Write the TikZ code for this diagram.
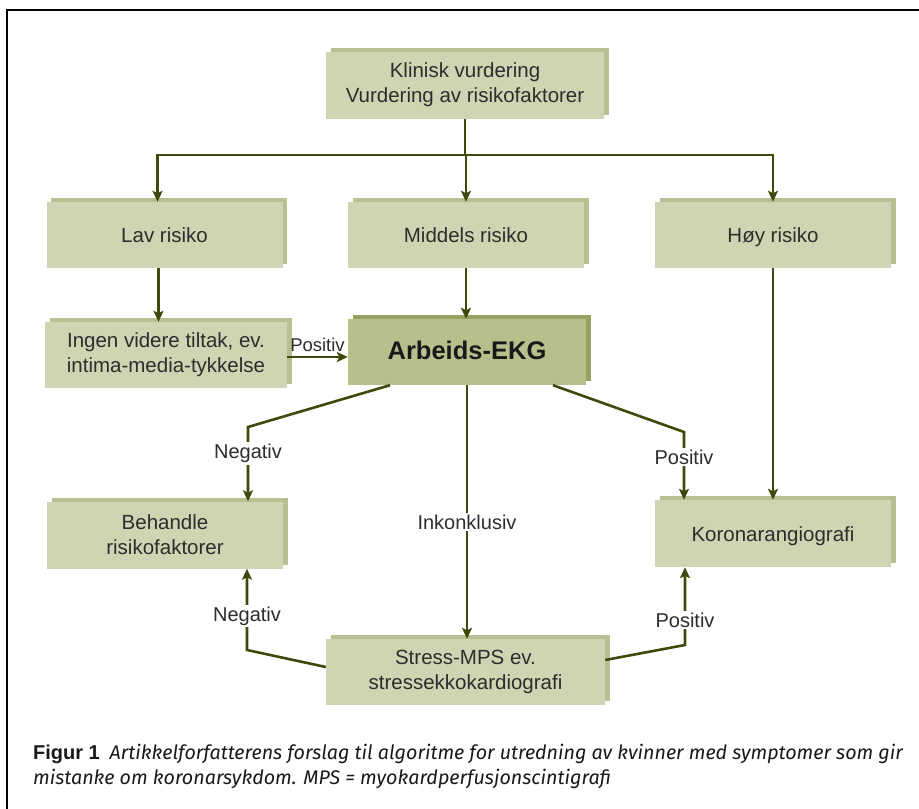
\documentclass[tikz,border=0pt]{standalone}
\usepackage{fontspec}
\setmainfont{Liberation Sans}
\newfontfamily\capfont{Fira Sans}
\usepackage{tikz}
\usetikzlibrary{positioning}
\usetikzlibrary{arrows.meta}
\usetikzlibrary{shadows}

\definecolor{boxfill}{RGB}{207,212,178}
\definecolor{boxshade}{RGB}{184,192,147}
\definecolor{keyfill}{RGB}{184,191,141}
\definecolor{keyshade}{RGB}{152,161,98}
\definecolor{flowline}{RGB}{61,74,12}
\definecolor{boxtext}{RGB}{45,45,45}

\begin{document}
\begin{tikzpicture}[x=1pt,y=-1pt,
  boxbase/.style={inner sep=0pt, align=center, text=boxtext,
    minimum width=236pt, minimum height=66pt},
  box/.style={boxbase, fill=boxfill, font=\fontsize{20.5}{25}\selectfont,
    general shadow={fill=boxshade, shadow xshift=4.5pt, shadow yshift=4pt}},
  keybox/.style={boxbase, fill=keyfill, text=black!90,
    font=\bfseries\fontsize{25.5}{28}\selectfont,
    general shadow={fill=keyshade, shadow xshift=4.5pt, shadow yshift=4pt}},
  oneline/.style={text height=19pt, text depth=4pt},
  flow/.style={draw=flowline, line width=2.6pt},
  arr/.style={flow, -{Stealth[length=11pt,width=10pt,inset=2.5pt]}},
  lbl/.style={fill=white, text=boxtext, inner sep=2pt, font=\fontsize{20}{22}\selectfont}]
  \useasboundingbox (0,0) rectangle (919,809);

  % Frame
  \draw[line width=2.6pt] (7,809) -- (7,10) -- (919,10);

  % Clinical assessment
  \node[box, minimum width=278pt, minimum height=67pt] (klinisk) at (465,85)
    {Klinisk vurdering\\Vurdering av risikofaktorer};

  % Risk groups
  \node[box, oneline] (lav) at (164.5,235) {Lav risiko};
  \node[box, oneline] (middels) at (466,235) {Middels risiko};
  \node[box, oneline] (hoy) at (773,235) {Høy risiko};

  % Second row
  \node[box, minimum width=242pt] (ingen) at (166,355) {Ingen videre tiltak, ev.\\intima-media-tykkelse};
  \node[keybox, oneline, minimum width=238pt] (ekg) at (467,352) {Arbeids-EKG};

  % Third row
  \node[box, minimum height=67pt] (behandle) at (165,535) {Behandle\\risikofaktorer};
  \node[box, oneline, minimum height=67pt] (koronar) at (773,533.5) {Koronarangiografi};

  % Bottom
  \node[box, minimum width=279pt] (stress) at (465.5,672) {Stress-MPS ev.\\stressekkokardiografi};

  % Split to risk groups
  \coordinate (split) at (465,155);
  \draw[flow] (klinisk.south) -- (split);
  \draw[arr] (split) -| ([xshift=-7pt]lav.north);
  \draw[arr] (split) -| (hoy.north);
  \draw[arr] (split) -- (middels.north |- split) -- (middels.north);

  % Down to second row
  \draw[arr] ([xshift=-6pt]lav.south) -- ([xshift=-6pt]lav.south |- ingen.north);
  \draw[arr] (middels.south) -- (middels.south |- ekg.north);
  \draw[arr] ([yshift=-2pt]ingen.east) -- ([yshift=-2pt]ingen.east -| ekg.west)
    node[midway, above=4pt, inner sep=0pt, text=boxtext, font=\fontsize{18.5}{20}\selectfont] {Positiv};
  \draw[arr] (hoy.south) -- (hoy.south |- koronar.north);

  % Out of Arbeids-EKG
  \coordinate (negknee) at (248,427);
  \coordinate (posknee) at (684,432);
  \draw[arr] ([xshift=-77pt]ekg.south) -- (negknee) -- (negknee |- behandle.north)
    node[lbl, pos=0.36] {Negativ};
  \draw[arr] (ekg.south) -- (ekg.south |- stress.north)
    node[lbl, pos=0.54] {Inkonklusiv};
  \draw[arr] ([xshift=86pt]ekg.south) -- (posknee) -- (posknee |- koronar.north)
    node[lbl, pos=0.37] {Positiv};

  % Out of Stress-MPS
  \coordinate (negknee2) at (247,650);
  \coordinate (posknee2) at (685,645);
  \draw[arr] ([yshift=5pt]stress.west) -- (negknee2) -- (negknee2 |- behandle.south)
    node[lbl, pos=0.42] {Negativ};
  \draw[arr] ([yshift=12pt]stress.east) -- (posknee2) -- (posknee2 |- koronar.south)
    node[lbl, pos=0.32] {Positiv};

  % Caption
  \node[anchor=base west, align=left, inner sep=0pt, text=black!90,
    font=\capfont\itshape\fontsize{19.7}{25}\selectfont] (caption) at (33,784)
    {{\normalfont\bfseries\fontsize{20}{25}\selectfont Figur 1}\enspace Artikkelforfatterens forslag til algoritme for utredning av kvinner med symptomer som gir\\
     mistanke om koronarsykdom. MPS = myokardperfusjonscintigrafi};
\end{tikzpicture}
\end{document}
